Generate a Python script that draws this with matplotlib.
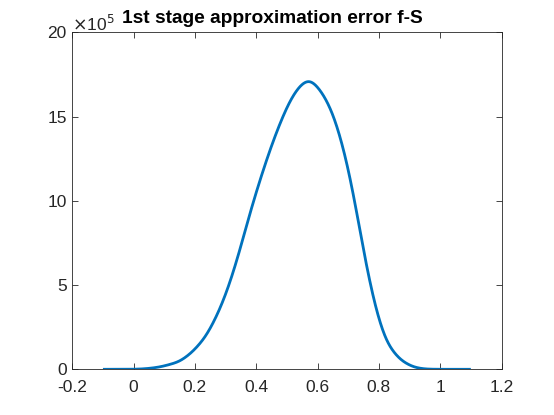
import numpy as np
import matplotlib
matplotlib.use("Agg")
import matplotlib.pyplot as plt
from matplotlib.ticker import FixedLocator

# data (y in units of 1e-5)
x_vals = [-0.10, 0.00, 0.04, 0.086, 0.151, 0.194, 0.238, 0.281, 0.314, 0.347, 0.379,
          0.412, 0.444, 0.477, 0.510, 0.542, 0.575, 0.618, 0.651, 0.684, 0.706,
          0.727, 0.749, 0.771, 0.793, 0.825, 0.869, 0.912, 0.950, 1.00, 1.10]
y_vals = [0.0, 0.0, 0.03, 0.13, 0.45, 1.05, 1.98, 3.52, 5.10, 7.08, 9.26,
          11.23, 13.00, 14.60, 15.98, 16.87, 17.30, 16.38, 15.19, 13.20, 11.43,
          9.45, 7.08, 5.10, 3.32, 1.54, 0.55, 0.12, 0.01, 0.0, 0.0]
x_ticks = [-0.2, 0, 0.2, 0.4, 0.6, 0.8, 1, 1.2]
x_ticklabels = ["-0.2", "0", "0.2", "0.4", "0.6", "0.8", "1", "1.2"]
y_ticks = [0, 5, 10, 15, 20]
y_ticklabels = ["0", "5", "10", "15", "20"]
title = "1st stage approximation error f-S"

plt.rcParams['font.family'] = ['Liberation Sans', 'DejaVu Sans']

# dense linear interpolation of the read points, then gentle Gaussian smoothing
xs = np.linspace(x_vals[0], x_vals[-1], 1201)
ys_lin = np.interp(xs, x_vals, y_vals)
dx = xs[1] - xs[0]
sigma = 0.017
k = np.arange(-int(4*sigma/dx), int(4*sigma/dx) + 1) * dx
ker = np.exp(-0.5 * (k/sigma)**2); ker /= ker.sum()
pad = len(k)//2
ys = np.convolve(np.pad(ys_lin, pad, mode='edge'), ker, mode='valid')

fig = plt.figure(figsize=(5.54, 4.15), dpi=100)
ax = fig.add_axes([72.3/554, 1 - 369.3/415, (501.5-72.3)/554, (369.3-32.3)/415])
ax.plot(xs, ys, color='#0072BD', lw=2.0, solid_capstyle='butt')
ax.set_xlim(-0.2, 1.2)
ax.set_ylim(0, 20)
ax.xaxis.set_major_locator(FixedLocator(x_ticks))
ax.set_xticklabels(x_ticklabels)
ax.yaxis.set_major_locator(FixedLocator(y_ticks))
ax.set_yticklabels(y_ticklabels)
ax.tick_params(direction='in', length=4, width=0.6, colors='#262626',
               labelsize=12.5, top=True, right=True, pad=4)
ax.tick_params(axis='x', pad=8)
for s in ax.spines.values():
    s.set_color('#262626'); s.set_linewidth(0.6)
fig.text(72.5/554, 1 - 34/415, r"$\times$10$^{5}$", fontsize=12.5, color='#262626',
         ha='left', va='bottom')
fig.text(272.5/554, 1 - 23/415, title, fontsize=13.8, fontweight='bold',
         ha='center', va='baseline', color='black')
fig.savefig("out.png", dpi=100)
